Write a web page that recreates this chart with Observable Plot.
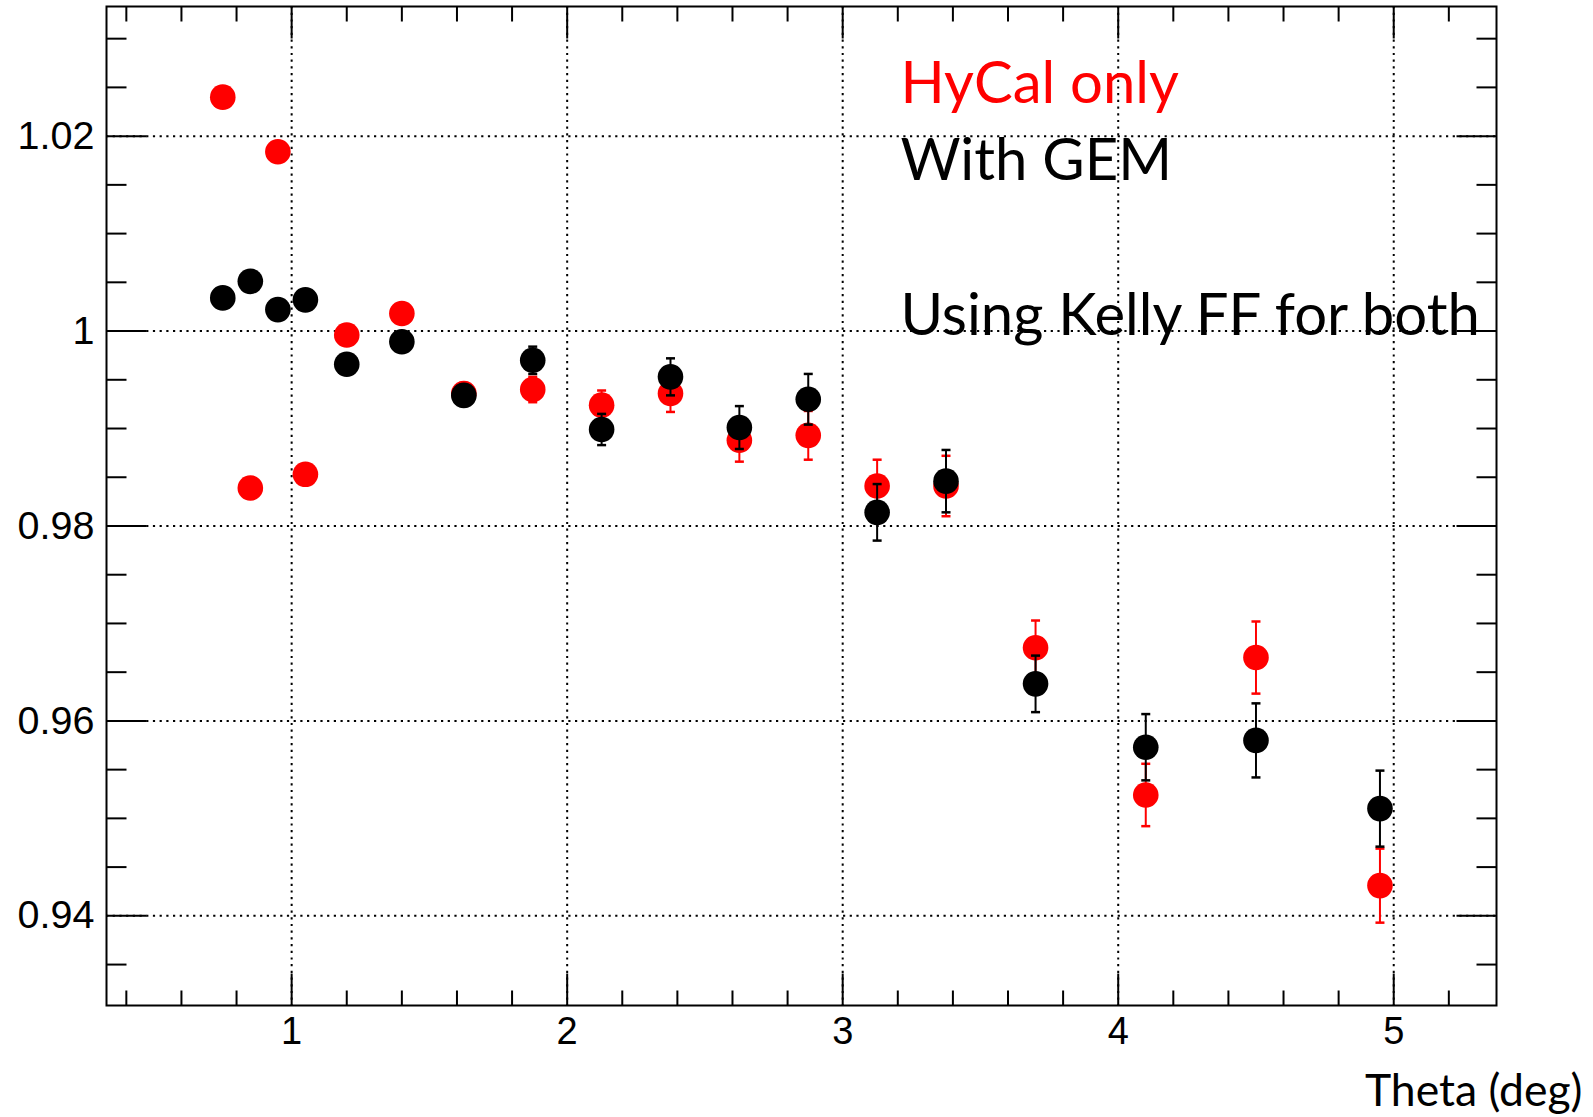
<!DOCTYPE html>
<html>
<head>
<meta charset="utf-8">
<script src="https://cdn.jsdelivr.net/npm/d3@7"></script>
<script src="https://cdn.jsdelivr.net/npm/@observablehq/plot@0.6"></script>
<style>
  html, body { margin: 0; padding: 0; background: #fff; }
  #chart svg { display: block; }
</style>
</head>
<body>
<div id="chart"></div>
<script>
// ---- data ----
const theta = [0.75, 0.85, 0.95, 1.05, 1.2, 1.4, 1.625, 1.875, 2.125, 2.375, 2.625, 2.875, 3.125, 3.375, 3.7, 4.1, 4.5, 4.95];
const hycal = [1.0240, 0.9839, 1.0184, 0.9853, 0.9996, 1.0018, 0.9936, 0.9940, 0.9924, 0.9936, 0.9888, 0.9893, 0.9841, 0.9841, 0.9675, 0.9524, 0.9665, 0.9431];
const hycalErr = [0.0006, 0.0006, 0.0007, 0.0007, 0.0008, 0.0009, 0.0011, 0.0013, 0.0015, 0.0019, 0.0022, 0.0025, 0.0027, 0.0031, 0.0028, 0.0032, 0.0037, 0.0038];
const gem = [1.0034, 1.0051, 1.0022, 1.0032, 0.9966, 0.9989, 0.9934, 0.9970, 0.9899, 0.9953, 0.9901, 0.9930, 0.9814, 0.9846, 0.9638, 0.9573, 0.9580, 0.9510];
const gemErr = [0.0006, 0.0006, 0.0007, 0.0007, 0.0008, 0.0009, 0.0011, 0.0014, 0.0016, 0.0019, 0.0022, 0.0026, 0.0029, 0.0032, 0.0029, 0.0034, 0.0038, 0.0039];

const xDomain = [0.328, 5.373];
const yDomain = [0.9308, 1.0333];
const xMajor = [1, 2, 3, 4, 5];
const xMinor = [0.4, 0.6, 0.8, 1.2, 1.4, 1.6, 1.8, 2.2, 2.4, 2.6, 2.8, 3.2, 3.4, 3.6, 3.8, 4.2, 4.4, 4.6, 4.8, 5.2];
const yMajor = [0.94, 0.96, 0.98, 1.00, 1.02];
const yMinor = [0.935, 0.945, 0.95, 0.955, 0.965, 0.97, 0.975, 0.985, 0.99, 0.995, 1.005, 1.01, 1.015, 1.025, 1.03];
const yLabels = ["0.94", "0.96", "0.98", "1", "1.02"];

const legendLines = ["HyCal only", "With GEM", "Using Kelly FF for both"];
const legendColors = ["#ff0000", "#000000", "#000000"];
const xTitle = "Theta (deg)";

// ---- tables ----
const red = theta.map((t, i) => ({x: t, y: hycal[i], e: hycalErr[i]}));
const black = theta.map((t, i) => ({x: t, y: gem[i], e: gemErr[i]}));

// ---- custom symbols (line glyphs) ----
const len = s => Math.sqrt(s / Math.PI);
const hLine = {draw(c, s) { const r = len(s); c.moveTo(-r, 0); c.lineTo(r, 0); }};
const up    = {draw(c, s) { const r = len(s); c.moveTo(0, 0); c.lineTo(0, -r); }};
const down  = {draw(c, s) { const r = len(s); c.moveTo(0, 0); c.lineTo(0, r); }};
const right = {draw(c, s) { const r = len(s); c.moveTo(0, 0); c.lineTo(r, 0); }};
const left  = {draw(c, s) { const r = len(s); c.moveTo(0, 0); c.lineTo(-r, 0); }};

const tickStyle = {stroke: "black", strokeWidth: 2, fill: "none"};
const annFont = "Lato, 'Open Sans', sans-serif";

function errorMarks(data, color) {
  return [
    Plot.ruleX(data, {x: "x", y1: d => d.y - d.e, y2: d => d.y + d.e, stroke: color, strokeWidth: 2}),
    Plot.dot(data, {x: "x", y: d => d.y - d.e, symbol: hLine, r: 4.5, stroke: color, strokeWidth: 2.5, fill: "none"}),
    Plot.dot(data, {x: "x", y: d => d.y + d.e, symbol: hLine, r: 4.5, stroke: color, strokeWidth: 2.5, fill: "none"})
  ];
}

const chart = Plot.plot({
  width: 1593,
  height: 1117,
  marginLeft: 106,
  marginRight: 97,
  marginTop: 6,
  marginBottom: 112,
  style: {fontFamily: "'Liberation Sans', Arial, Helvetica, sans-serif", fontSize: "39px", background: "#fff", color: "#000"},
  x: {domain: xDomain, nice: false},
  y: {domain: yDomain, nice: false},
  marks: [
    Plot.gridX(xMajor, {stroke: "black", strokeOpacity: 1, strokeWidth: 2, strokeDasharray: "2.2,4.5"}),
    Plot.gridY(yMajor, {stroke: "black", strokeOpacity: 1, strokeWidth: 2, strokeDasharray: "2.2,4.5"}),
    // inward ticks: bottom / top
    Plot.dot(xMajor, {x: d => d, y: () => yDomain[0], symbol: up, r: 32, ...tickStyle}),
    Plot.dot(xMinor, {x: d => d, y: () => yDomain[0], symbol: up, r: 15, ...tickStyle}),
    Plot.dot(xMajor, {x: d => d, y: () => yDomain[1], symbol: down, r: 32, ...tickStyle}),
    Plot.dot(xMinor, {x: d => d, y: () => yDomain[1], symbol: down, r: 15, ...tickStyle}),
    // inward ticks: left / right
    Plot.dot(yMajor, {y: d => d, x: () => xDomain[0], symbol: right, r: 40, ...tickStyle}),
    Plot.dot(yMinor, {y: d => d, x: () => xDomain[0], symbol: right, r: 20, ...tickStyle}),
    Plot.dot(yMajor, {y: d => d, x: () => xDomain[1], symbol: left, r: 40, ...tickStyle}),
    Plot.dot(yMinor, {y: d => d, x: () => xDomain[1], symbol: left, r: 20, ...tickStyle}),
    Plot.axisX({ticks: xMajor, tickSize: 0, tickPadding: 12, tickFormat: d => String(d), label: null, fontSize: 38}),
    Plot.axisY({ticks: yMajor, tickSize: 0, tickPadding: 12, tickFormat: (d, i) => yLabels[i], label: null, fontSize: 39.5}),
    Plot.frame({stroke: "black", strokeWidth: 2}),
    // HyCal only (red)
    ...errorMarks(red, "#ff0000"),
    Plot.dot(red, {x: "x", y: "y", r: 12.8, fill: "#ff0000", stroke: "none"}),
    // With GEM (black)
    ...errorMarks(black, "#000000"),
    Plot.dot(black, {x: "x", y: "y", r: 12.8, fill: "#000000", stroke: "none"}),
    // annotations
    Plot.text([legendLines[0]], {text: d => d, frameAnchor: "top-left", dx: 794, dy: 78, textAnchor: "start", lineAnchor: "middle", fontSize: 58, fontFamily: annFont, fill: legendColors[0]}),
    Plot.text([legendLines[1]], {text: d => d, frameAnchor: "top-left", dx: 794, dy: 155, textAnchor: "start", lineAnchor: "middle", fontSize: 58, fontFamily: annFont, fill: legendColors[1]}),
    Plot.text([legendLines[2]], {text: d => d, frameAnchor: "top-left", dx: 794, dy: 310, textAnchor: "start", lineAnchor: "middle", fontSize: 58, fontFamily: annFont, fill: legendColors[2]}),
    Plot.text([xTitle], {text: d => d, frameAnchor: "bottom-right", dx: 86, dy: 86, textAnchor: "end", lineAnchor: "middle", fontSize: 44.5, fontFamily: annFont, fill: "#000"})
  ]
});
document.getElementById("chart").appendChild(chart);
</script>
</body>
</html>
